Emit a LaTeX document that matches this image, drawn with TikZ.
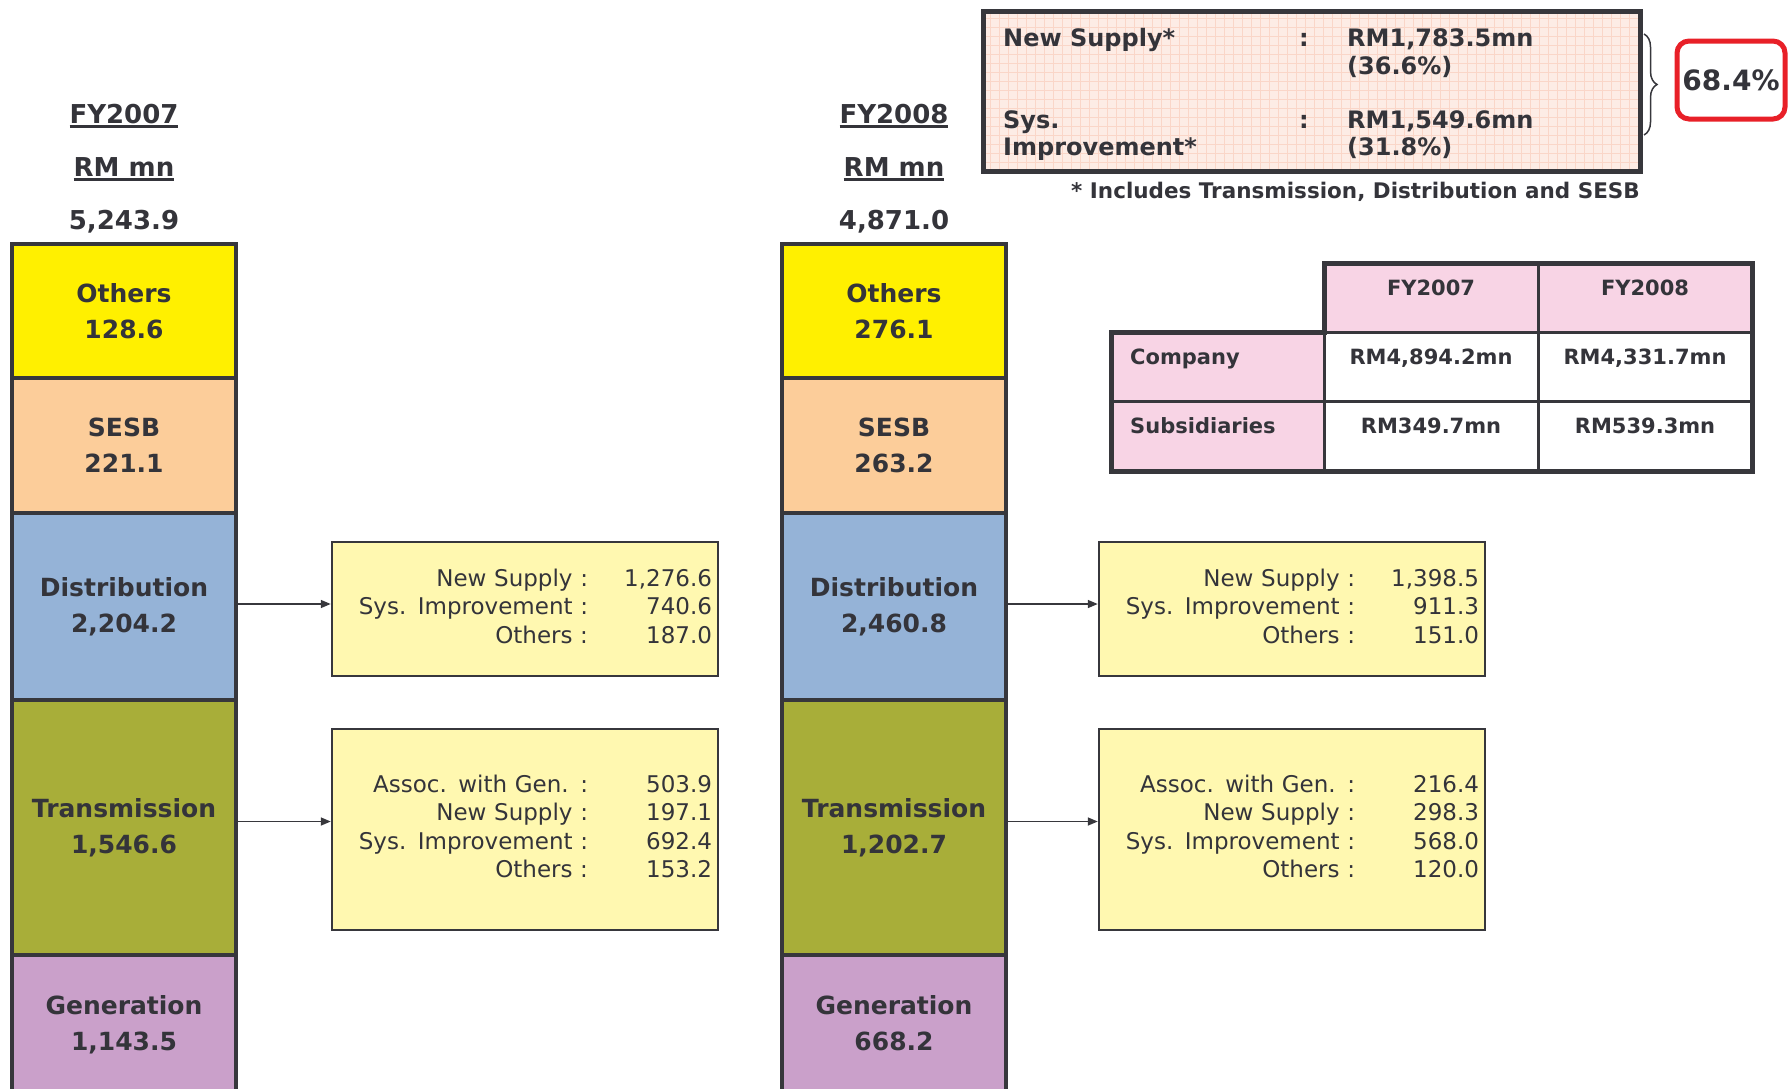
\documentclass[tikz,border=0pt]{standalone}
\usepackage{fontspec}
\setmainfont{DejaVu Sans}
\usetikzlibrary{arrows.meta,decorations.pathreplacing}
\definecolor{txt}{RGB}{52,52,58}
\definecolor{bord}{RGB}{55,55,60}
\definecolor{cyel}{RGB}{255,240,0}
\definecolor{cpeach}{RGB}{252,205,154}
\definecolor{cblue}{RGB}{149,179,215}
\definecolor{colive}{RGB}{168,174,57}
\definecolor{cmauve}{RGB}{202,160,202}
\definecolor{detfill}{RGB}{255,248,176}
\definecolor{cpink}{RGB}{248,212,229}
\definecolor{topfill}{RGB}{253,236,229}
\definecolor{topgrid}{RGB}{250,214,200}
\definecolor{cred}{RGB}{232,32,40}
\newcommand\myul[1]{\setbox0\hbox{#1}\rlap{\rule[-4.5pt]{\wd0}{2.5pt}}\box0}
\begin{document}
\begin{tikzpicture}[x=1pt,y=-1pt,
  every node/.style={text=txt},
  seg/.style={draw=bord, line width=4pt, minimum width=224pt, inner sep=0pt, align=center,
    font=\bfseries\fontsize{25}{36}\selectfont},
  head/.style={inner sep=0pt, anchor=base, font=\bfseries\fontsize{26}{30}\selectfont},
  detail/.style={draw=bord, line width=2.5pt, fill=detfill, text width=374pt, inner xsep=6pt,
    inner ysep=0pt, align=right, font=\fontsize{23}{28.5}\selectfont},
  tb/.style={inner sep=0pt, anchor=base west, font=\bfseries\fontsize{24}{27}\selectfont},
  tab/.style={inner sep=0pt, anchor=base, font=\bfseries\fontsize{21}{25}\selectfont},
  arr/.style={draw=bord, line width=1.6pt, -{Triangle[length=10pt,width=8pt]}}
]
\useasboundingbox (0,0) rectangle (1788,1088);

% ---------- FY2007 column ----------
\node[head] (h1a) at (124,123) {\myul{FY2007}};
\node[head] (h1b) at (124,176) {\myul{RM mn}};
\node[head] (h1c) at (124,229) {5,243.9};
\node[seg, fill=cyel, minimum height=134pt] (o1) at (124,311) {Others\\128.6};
\node[seg, fill=cpeach, minimum height=135pt] (s1) at (124,445.5) {SESB\\221.1};
\node[seg, fill=cblue, minimum height=187pt] (d1) at (124,606.5) {Distribution\\2,204.2};
\node[seg, fill=colive, minimum height=255pt] (t1) at (124,827.5) {Transmission\\1,546.6};
\node[seg, fill=cmauve, minimum height=140pt] (g1) at (124,1025) {Generation\\1,143.5};

% ---------- FY2008 column ----------
\node[head] (h2a) at (894,123) {\myul{FY2008}};
\node[head] (h2b) at (894,176) {\myul{RM mn}};
\node[head] (h2c) at (894,229) {4,871.0};
\node[seg, fill=cyel, minimum height=134pt] (o2) at (894,311) {Others\\276.1};
\node[seg, fill=cpeach, minimum height=135pt] (s2) at (894,445.5) {SESB\\263.2};
\node[seg, fill=cblue, minimum height=187pt] (d2) at (894,606.5) {Distribution\\2,460.8};
\node[seg, fill=colive, minimum height=255pt] (t2) at (894,827.5) {Transmission\\1,202.7};
\node[seg, fill=cmauve, minimum height=140pt] (g2) at (894,1025) {Generation\\668.2\vphantom{,}};

% ---------- detail boxes ----------
\node[detail, minimum height=134pt] (db1) at (525,609) {%
  \begin{tabular}{@{}r@{}r@{}}
  New Supply : & \makebox[124pt][r]{1,276.6}\\
  Sys. Improvement : & \makebox[124pt][r]{740.6}\\
  Others : & \makebox[124pt][r]{187.0}
  \end{tabular}};
\node[detail, minimum height=201pt] (tb1) at (525,829.5) {%
  \begin{tabular}{@{}r@{}r@{}}
  Assoc. with Gen. : & \makebox[124pt][r]{503.9}\\
  New Supply : & \makebox[124pt][r]{197.1}\\
  Sys. Improvement : & \makebox[124pt][r]{692.4}\\
  Others : & \makebox[124pt][r]{153.2}
  \end{tabular}};
\node[detail, minimum height=134pt] (db2) at (1292,609) {%
  \begin{tabular}{@{}r@{}r@{}}
  New Supply : & \makebox[124pt][r]{1,398.5}\\
  Sys. Improvement : & \makebox[124pt][r]{911.3}\\
  Others : & \makebox[124pt][r]{151.0}
  \end{tabular}};
\node[detail, minimum height=201pt] (tb2) at (1292,829.5) {%
  \begin{tabular}{@{}r@{}r@{}}
  Assoc. with Gen. : & \makebox[124pt][r]{216.4}\\
  New Supply : & \makebox[124pt][r]{298.3}\\
  Sys. Improvement : & \makebox[124pt][r]{568.0}\\
  Others : & \makebox[124pt][r]{120.0}
  \end{tabular}};

\draw[arr] ([yshift=5pt]db1.west -| d1.east) -- ([yshift=5pt]db1.west);
\draw[arr] ([yshift=8pt]tb1.west -| t1.east) -- ([yshift=8pt]tb1.west);
\draw[arr] ([yshift=5pt]db2.west -| d2.east) -- ([yshift=5pt]db2.west);
\draw[arr] ([yshift=8pt]tb2.west -| t2.east) -- ([yshift=8pt]tb2.west);

% ---------- top summary box ----------
\fill[topfill] (983,11) rectangle (1640,171);
\begin{scope}
  \clip (983,11) rectangle (1640,171);
  \draw[topgrid, line width=0.6pt, step=9pt] (983,11) grid (1640,171);
\end{scope}
\draw[bord, line width=5pt] (983,11) rectangle (1640,171);
\node[tb] (ns) at (1003,46) {New Supply*};
\node[tb] (c1) at (1299,46) {:};
\node[tb] (v1) at (1347,46) {RM1,783.5mn};
\node[tb] (p1) at (1347,74) {(36.6\%)};
\node[tb] (sy) at (1003,128) {Sys.};
\node[tb] (im) at (1003,155) {Improvement*};
\node[tb] (c2) at (1299,128) {:};
\node[tb] (v2) at (1347,128) {RM1,549.6mn};
\node[tb] (p2) at (1347,155) {(31.8\%)};
\node[inner sep=0pt, anchor=base east, font=\bfseries\fontsize{21.5}{24}\selectfont] (fn) at (1640,198)
  {* Includes Transmission, Distribution and SESB};
\draw[bord, line width=1.5pt, decorate, decoration={brace, amplitude=13pt}] (1644,34) -- (1644,135);
\node[draw=cred, line width=5pt, rounded corners=12pt, minimum width=108pt, minimum height=78pt,
  inner sep=0pt, font=\bfseries\fontsize{28}{32}\selectfont] (pct) at (1731,80) {68.4\%};

% ---------- table ----------
\fill[cpink] (1324,263) rectangle (1752,332);
\fill[cpink] (1111,332) rectangle (1324,471);
\fill[white] (1324,332) rectangle (1752,471);
\draw[bord, line width=3pt] (1538,263) -- (1538,471);
\draw[bord, line width=3pt] (1324,332) -- (1324,471);
\draw[bord, line width=3pt] (1324,332) -- (1752,332);
\draw[bord, line width=3pt] (1111,401) -- (1752,401);
\draw[bord, line width=5pt] (1324,332) -- (1324,263) -- (1752,263) -- (1752,471) -- (1111,471) -- (1111,332) -- cycle;
\node[tab] (th1) at (1431,295) {FY2007};
\node[tab] (th2) at (1645,295) {FY2008};
\node[tab, anchor=base west] (tr1) at (1130,364) {Company};
\node[tab] (tc1) at (1431,364) {RM4,894.2mn};
\node[tab] (tc2) at (1645,364) {RM4,331.7mn};
\node[tab, anchor=base west] (tr2) at (1130,433) {Subsidiaries};
\node[tab] (tc3) at (1431,433) {RM349.7mn};
\node[tab] (tc4) at (1645,433) {RM539.3mn};
\end{tikzpicture}
\end{document}
